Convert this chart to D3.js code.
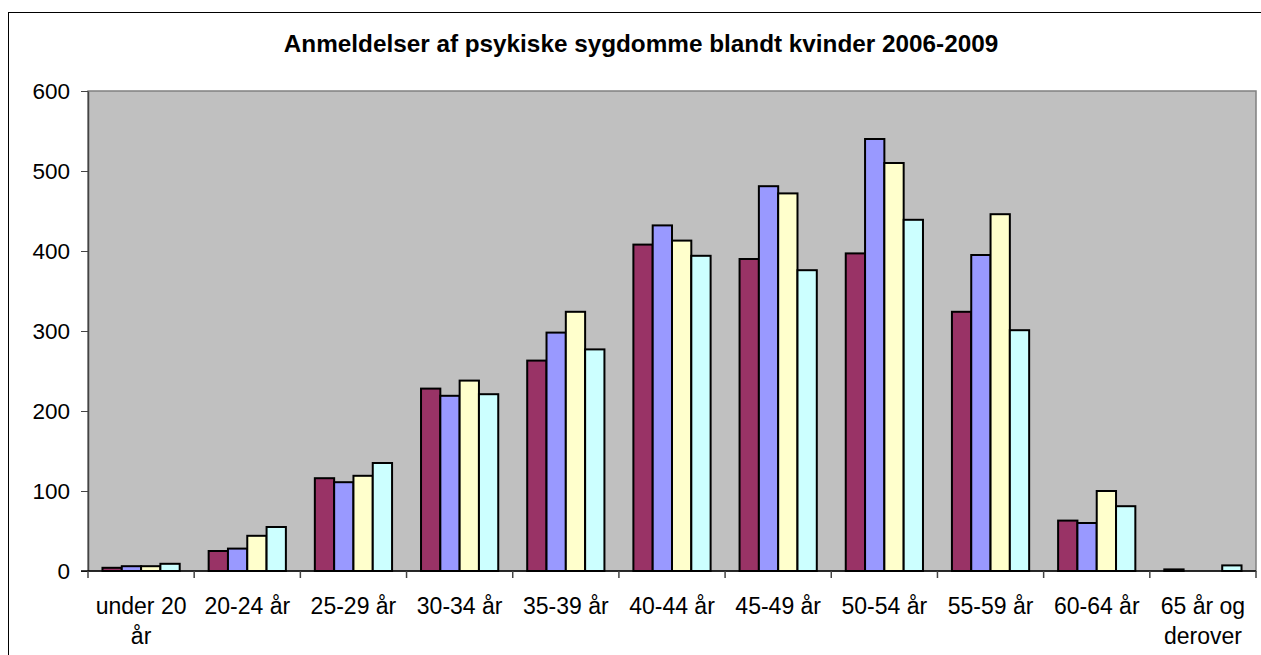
<!DOCTYPE html>
<html>
<head>
<meta charset="utf-8">
<script src="https://cdn.jsdelivr.net/npm/d3@7"></script>
<style>
  body { margin: 0; background: #fff; }
  text { font-family: "Liberation Sans", Arial, sans-serif; }
</style>
</head>
<body>
<svg id="chart" width="1261" height="655"></svg>
<script>
var title = "Anmeldelser af psykiske sygdomme blandt kvinder 2006-2009";
var categories = ["under 20 år", "20-24 år", "25-29 år", "30-34 år", "35-39 år", "40-44 år",
    "45-49 år", "50-54 år", "55-59 år", "60-64 år", "65 år og derover"];
// label lines as they wrap in the picture
var labelLines = [["under 20", "år"], ["20-24 år"], ["25-29 år"], ["30-34 år"], ["35-39 år"], ["40-44 år"],
    ["45-49 år"], ["50-54 år"], ["55-59 år"], ["60-64 år"], ["65 år og", "derover"]];
var years = ["2006", "2007", "2008", "2009"];
var v2006 = [4, 25, 116, 228, 263, 408, 390, 397, 324, 63, 2];
var v2007 = [6, 28, 111, 219, 298, 432, 481, 540, 395, 60, 0];
var v2008 = [6, 44, 119, 238, 324, 413, 472, 510, 446, 100, 0];
var v2009 = [9, 55, 135, 221, 277, 394, 376, 439, 301, 81, 7];
var yTicks = [0, 100, 200, 300, 400, 500, 600];
var colors = ["#993366", "#9999ff", "#ffffcc", "#ccffff"];

var series = [v2006, v2007, v2008, v2009];

var svg = d3.select("#chart");
var margin = {left: 88, top: 91, right: 1256, bottom: 571};

// chart frame
svg.append("rect")
    .attr("x", 8.5).attr("y", 12.5)
    .attr("width", 1270).attr("height", 660)
    .attr("fill", "#fff").attr("stroke", "#000").attr("stroke-width", 1);

svg.append("text")
    .attr("x", 641).attr("y", 52)
    .attr("text-anchor", "middle")
    .style("font-size", "24.3px")
    .style("font-weight", "bold")
    .text(title);

var x0 = d3.scaleBand().domain(categories).range([margin.left, margin.right]).padding(0);
var bw = x0.bandwidth();
var x1 = d3.scaleBand().domain(years)
    .range([bw * 0.75 / 5.5, bw - bw * 0.75 / 5.5]).padding(0);
var y = d3.scaleLinear().domain([0, 600]).range([margin.bottom, margin.top]);

// plot area
svg.append("rect")
    .attr("x", margin.left).attr("y", margin.top)
    .attr("width", margin.right - margin.left).attr("height", margin.bottom - margin.top)
    .attr("fill", "#c0c0c0").attr("stroke", "#808080").attr("stroke-width", 1.5);

var groups = svg.append("g").selectAll("g")
    .data(categories)
    .enter().append("g")
    .attr("transform", function(d) { return "translate(" + x0(d) + ",0)"; });

groups.selectAll("rect")
    .data(function(d, i) {
        return years.map(function(yr, j) { return {year: yr, value: series[j][i], idx: j}; });
    })
    .enter().append("rect")
    .filter(function(d) { return d.value > 0; })
    .attr("x", function(d) { return x1(d.year); })
    .attr("width", x1.bandwidth())
    .attr("y", function(d) { return y(d.value); })
    .attr("height", function(d) { return y(0) - y(d.value); })
    .attr("fill", function(d) { return colors[d.idx]; })
    .attr("stroke", "#000")
    .attr("stroke-width", 2);

// y axis
var yAxis = svg.append("g")
    .attr("transform", "translate(" + margin.left + ",0)")
    .call(d3.axisLeft(y).tickValues(yTicks).tickSize(7).tickPadding(11).tickSizeOuter(0));
yAxis.select(".domain").attr("stroke", "#444").attr("stroke-width", 1.5);
yAxis.selectAll(".tick line").attr("stroke", "#444");
yAxis.selectAll("text").style("font-size", "22.5px").attr("fill", "#000")
    .style("font-family", "'Liberation Sans', Arial, sans-serif");

// x axis
var xAxis = svg.append("g")
    .attr("transform", "translate(0," + margin.bottom + ")");
xAxis.append("line")
    .attr("x1", margin.left - 7).attr("x2", margin.right)
    .attr("y1", 0).attr("y2", 0)
    .attr("stroke", "#000").attr("stroke-width", 1.5);
var edges = categories.map(function(c) { return x0(c); }).concat([margin.right]);
xAxis.selectAll(".xt")
    .data(edges)
    .enter().append("line")
    .attr("class", "xt")
    .attr("x1", function(d) { return d; }).attr("x2", function(d) { return d; })
    .attr("y1", 0).attr("y2", 7)
    .attr("stroke", "#444").attr("stroke-width", 1.5);

var labels = xAxis.selectAll(".xl")
    .data(categories)
    .enter().append("text")
    .attr("class", "xl")
    .attr("text-anchor", "middle")
    .style("font-size", "23px")
    .attr("x", function(d) { return x0(d) + bw / 2; })
    .attr("y", 43);
labels.each(function(d, i) {
    var t = d3.select(this);
    labelLines[i].forEach(function(line, k) {
        t.append("tspan")
            .attr("x", x0(d) + bw / 2)
            .attr("dy", k === 0 ? 0 : 30)
            .text(line);
    });
});
</script>
</body>
</html>
